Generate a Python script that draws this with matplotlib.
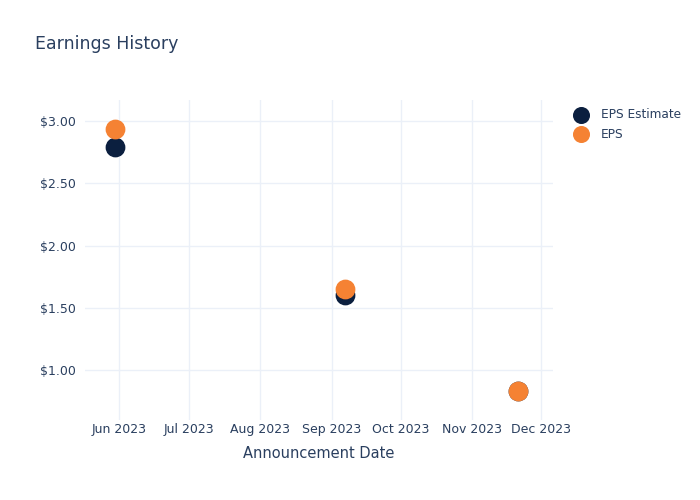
import matplotlib
matplotlib.use("Agg")
import matplotlib.pyplot as plt
import matplotlib.dates as mdates
from matplotlib.ticker import FuncFormatter
from datetime import datetime

dates = ["2023-05-30", "2023-09-07", "2023-11-21"]
eps_estimate = [2.79, 1.60, 0.83]
eps_actual = [2.94, 1.65, 0.83]
series_names = ["EPS Estimate", "EPS"]

TEXT = "#2a3f5f"
GRID = "#ebf0f8"
NAVY = "#0b1f3f"
ORANGE = "#f58233"

x = [datetime.strptime(d, "%Y-%m-%d") for d in dates]

fig = plt.figure(figsize=(7, 5), dpi=100)
ax = fig.add_axes([0.121, 0.16, 0.669, 0.64])

ax.scatter(x, eps_estimate, s=175, color=NAVY, label=series_names[0], zorder=3)
ax.scatter(x, eps_actual, s=175, color=ORANGE, label=series_names[1], zorder=4)

ax.set_xlim(datetime(2023, 5, 17), datetime(2023, 12, 6))
ax.set_ylim(0.60, 3.17)
ax.set_yticks([1.0, 1.5, 2.0, 2.5, 3.0])
ax.yaxis.set_major_formatter(FuncFormatter(lambda v, p: f"${v:.2f}"))
ax.xaxis.set_major_locator(mdates.MonthLocator())
ax.xaxis.set_major_formatter(mdates.DateFormatter("%b %Y"))

ax.grid(True, color=GRID, linewidth=1)
ax.set_axisbelow(True)
for s in ax.spines.values():
    s.set_visible(False)
ax.tick_params(length=0, colors=TEXT, labelsize=9)
ax.tick_params(axis="x", pad=2)
ax.tick_params(axis="y", pad=6)

ax.set_xlabel("Announcement Date", color=TEXT, fontsize=10.5, labelpad=7)
fig.text(0.05, 0.912, "Earnings History", color=TEXT, fontsize=12.5, va="center")

leg = ax.legend(loc="upper left", bbox_to_anchor=(1.015, 1.0), frameon=False,
                fontsize=8.7, labelcolor=TEXT, handletextpad=0.7,
                markerscale=0.85, borderaxespad=0.3, labelspacing=0.5)

fig.savefig("out.png", dpi=100)
